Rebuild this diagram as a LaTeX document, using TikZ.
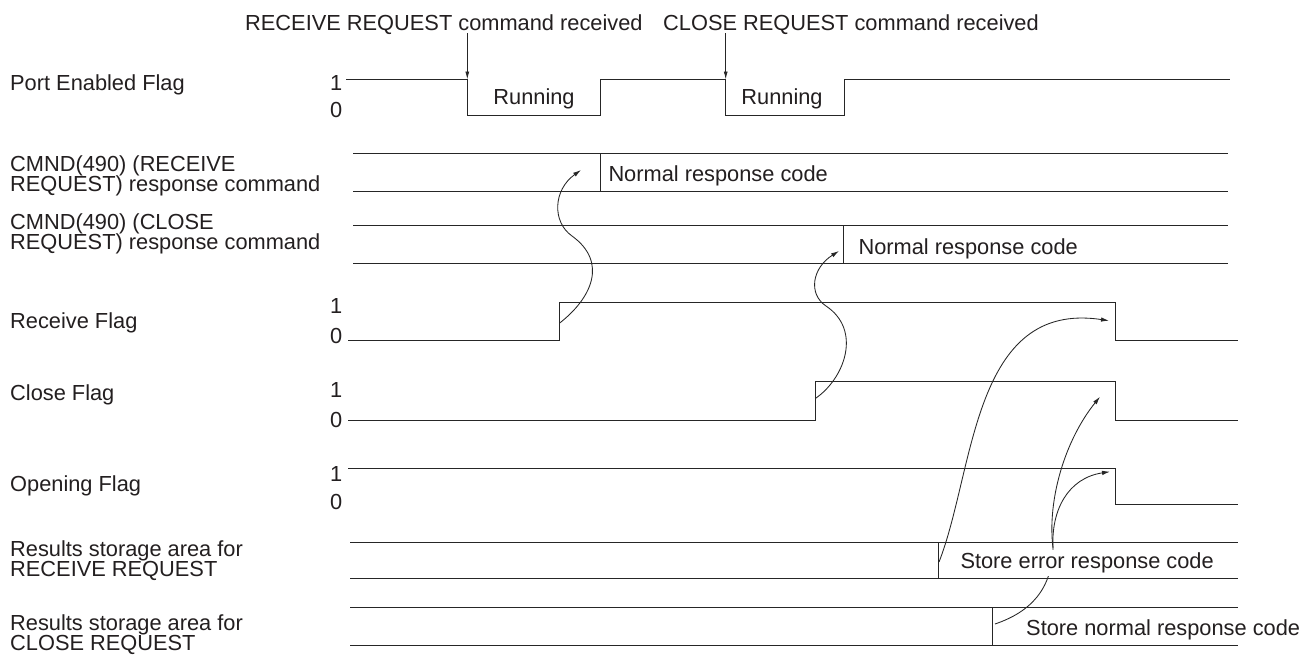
\documentclass[tikz,border=0pt]{standalone}
\usepackage{fontspec}
\setmainfont{Liberation Sans}
\usetikzlibrary{arrows.meta}
\definecolor{ln}{HTML}{262626}
\definecolor{txt}{HTML}{231F20}
\newcommand\mytwo[2]{\vtop{\baselineskip=20pt\lineskiplimit=-30pt\hbox{#1}\hbox{#2}}}
\begin{document}
\begin{tikzpicture}[x=1pt,y=-1pt,
  every node/.style={inner sep=0pt, font=\fontsize{21.8}{20}\selectfont, text=txt},
  wave/.style={line width=1pt, draw=ln, line join=miter},
  arr/.style={line width=0.85pt, draw=ln, -{Latex[length=8pt,width=4.5pt]}},
  lbl/.style={anchor=base west},
  lvl/.style={anchor=west}]
\fill[white] (0,0) rectangle (1316,654);
\useasboundingbox (0,0) rectangle (1316,654);

% ---- row labels
\node[lbl] (lport)  at (10,90.7)  {Port Enabled Flag};
\node[lbl] (lcmr)   at (10,171)   {\mytwo{CMND(490) (RECEIVE}{REQUEST) response command}};
\node[lbl] (lcmc)   at (10,229)   {\mytwo{CMND(490) (CLOSE}{REQUEST) response command}};
\node[lbl] (lrecv)  at (10,328)   {Receive Flag};
\node[lbl] (lclose) at (10,400.7) {Close Flag};
\node[lbl] (lopen)  at (10,491.7) {Opening Flag};
\node[lbl] (lresr)  at (10,556.5) {\mytwo{Results storage area for}{RECEIVE REQUEST}};
\node[lbl] (lresc)  at (10,630)   {\mytwo{Results storage area for}{CLOSE REQUEST}};

% ---- level marks
\node[lvl] (p1) at (330,82.5)  {1};
\node[lvl] (p0) at (330,109.5) {0};
\node[lvl] (r1) at (330,306)   {1};
\node[lvl] (r0) at (330,336)   {0};
\node[lvl] (c1) at (330,389.5) {1};
\node[lvl] (c0) at (330,419.5) {0};
\node[lvl] (o1) at (330,473.5) {1};
\node[lvl] (o0) at (330,501.5) {0};

% ---- command texts and arrows
\node[lbl] (cmdrr) at (245,30) {RECEIVE REQUEST command received};
\node[lbl] (cmdcr) at (663,30) {CLOSE REQUEST command received};
\coordinate (ra0) at (467.3,33);
\coordinate (ra1) at (467.3,79.5);
\coordinate (ca0) at (725.7,33);
\coordinate (ca1) at (725.7,79.5);
\draw[arr, -{Latex[length=8pt,width=4pt]}] (ra0) -- (ra1);
\draw[arr, -{Latex[length=8pt,width=4pt]}] (ca0) -- (ca1);

% ---- Port Enabled Flag
\draw[wave] (346,79.5) -- (ra1) -- (467.3,115) -- (600.7,115) -- (600.7,79.5)
  -- (ca1) -- (725.7,115) -- (844,115) -- (844,79.5) -- (1230,79.5);
\node[anchor=base] (run1) at (534,104) {Running};
\node[anchor=base] (run2) at (782,104) {Running};

% ---- CMND(490) RECEIVE response
\draw[wave] (353,153.5) -- (1228,153.5);
\draw[wave] (353,191.8) -- (1228,191.8);
\draw[wave] (600.7,153.5) -- (600.7,191.8);
\node[lbl] (nrc1) at (608.3,181.7) {Normal response code};

% ---- CMND(490) CLOSE response
\draw[wave] (353,225.3) -- (1228,225.3);
\draw[wave] (353,263.7) -- (1228,263.7);
\draw[wave] (843.3,225.3) -- (843.3,263.7);
\node[lbl] (nrc2) at (858.3,254.3) {Normal response code};

% ---- Receive Flag
\draw[wave] (348,340) -- (559.3,340) -- (559.3,302) -- (1115,302) -- (1115,340) -- (1237.7,340);
% ---- Close Flag
\draw[wave] (348,420) -- (815.6,420) -- (815.6,381) -- (1115,381) -- (1115,420) -- (1237.7,420);
% ---- Opening Flag
\draw[wave] (348,468.3) -- (1115,468.3) -- (1115,504) -- (1237.7,504);

% ---- Results storage RECEIVE
\draw[wave] (350,542.5) -- (1237.7,542.5);
\draw[wave] (350,578.3) -- (1237.7,578.3);
\draw[wave] (938.3,542.5) -- (938.3,578.3);
% ---- Results storage CLOSE
\draw[wave] (350,607.5) -- (1237.7,607.5);
\draw[wave] (350,645) -- (1237.7,645);
\draw[wave] (992.3,607.5) -- (992.3,645);

% ---- causal curves
\coordinate (aS) at (559.3,323.3);
\coordinate (aM) at (572,236);
\coordinate (aT) at (581,170);
\draw[arr] (aS) .. controls (592,298) and (608,262) .. (aM)
                .. controls (552,222) and (553,190) .. (aT);

\coordinate (bS) at (815.6,398.3);
\coordinate (bM) at (826,306);
\coordinate (bT) at (839,251);
\draw[arr] (bS) .. controls (845,378) and (862,330) .. (bM)
                .. controls (808,294) and (812,268) .. (bT);

\coordinate (cS) at (939,562);
\coordinate (cT) at (1109,320.7);
\draw[arr] (cS) .. controls (975,470) and (972,300) .. (cT);

\coordinate (eS) at (995,624);
\coordinate (eM) at (1053,548);
\coordinate (eT) at (1110,471.7);
\coordinate (dT) at (1100,396.7);
\draw[line width=0.85pt, draw=ln] (eS) .. controls (1030,612) and (1052,590) .. (eM);
\draw[arr] (eM) .. controls (1051,510) and (1068,478) .. (eT);
\draw[arr] (eM) .. controls (1047,500) and (1065,440) .. (dT);

% ---- store texts
\node[lbl, fill=white, inner ysep=3pt, inner xsep=1pt] (ser) at (959.3,568.3) {Store error response code};
\node[lbl] (snr) at (1026,635) {Store normal response code};
\end{tikzpicture}
\end{document}
